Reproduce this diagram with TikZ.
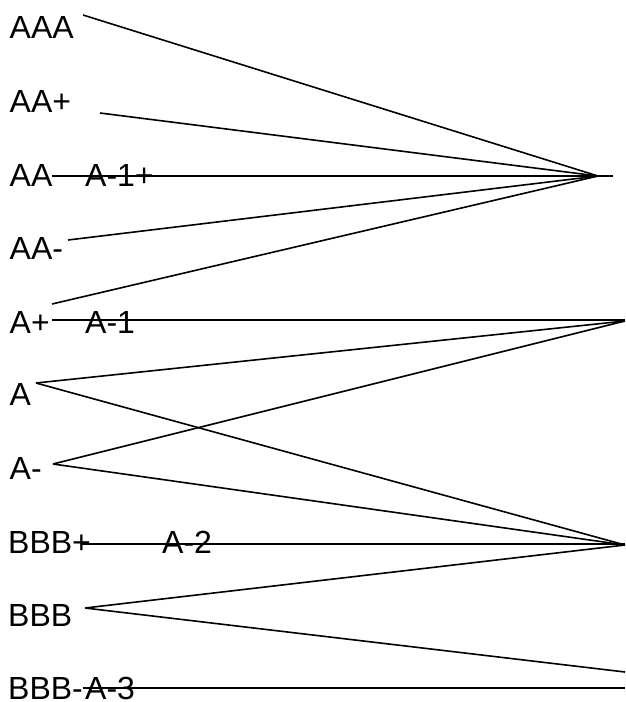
\documentclass[tikz,border=0pt]{standalone}
\usepackage{fontspec}
\setmainfont{Liberation Sans}
\begin{document}
\begin{tikzpicture}[x=1pt,y=-1pt,
  lbl/.style={anchor=base west,inner sep=0pt,font=\fontsize{32}{38}\selectfont},
  link/.style={line width=1.6pt,black}]
\useasboundingbox (0,0) rectangle (625,702);
% left labels
\node[lbl] (AAA) at (9.5,38) {AAA};
\node[lbl] (AAp) at (9.5,112) {AA+};
\node[lbl] (AA) at (9.5,186) {AA};
\node[lbl] (AAm) at (9.5,259) {AA-};
\node[lbl] (Ap) at (9.5,333) {A+};
\node[lbl] (A) at (9.5,405) {A};
\node[lbl] (Am) at (9.5,479) {A-};
\node[lbl] (BBBp) at (8,553) {BBB+};
\node[lbl] (BBB) at (8,626) {BBB};
\node[lbl] (BBBm) at (8,699) {BBB-};
% short-term labels
\node[lbl] (A1p) at (85,186) {A-1+};
\node[lbl] (A1) at (85,333) {A-1};
\node[lbl] (A2) at (162,553) {A-2};
\node[lbl] (A3) at (85,699) {A-3};
% endpoints
\coordinate (sAAA) at (83,15);
\coordinate (sAAp) at (100,113);
\coordinate (sAA) at (52,176);
\coordinate (sAAm) at (68,240);
\coordinate (sApu) at (52,304);
\coordinate (sAph) at (52,320);
\coordinate (sA) at (36,383);
\coordinate (sAm) at (53,464);
\coordinate (sBBBp) at (82,544);
\coordinate (sBBB) at (85,608);
\coordinate (sBBBm) at (83,688);
\coordinate (r1) at (598,176);
\coordinate (r1e) at (613,176);
\coordinate (r2) at (625,321);
\coordinate (r2h) at (625,320);
\coordinate (r3) at (625,545);
\coordinate (r3h) at (625,544);
\coordinate (r4) at (625,672);
\coordinate (r4h) at (625,688);
% connectors
\draw[link] (sAAA) -- (r1);
\draw[link] (sAAp) -- (r1);
\draw[link] (sAA) -- (r1e);
\draw[link] (sAAm) -- (r1);
\draw[link] (sApu) -- (r1);
\draw[link] (sAph) -- (r2h);
\draw[link] (sA) -- (r2);
\draw[link] (sA) -- (r3);
\draw[link] (sAm) -- (r2);
\draw[link] (sAm) -- (r3);
\draw[link] (sBBBp) -- (r3h);
\draw[link] (sBBB) -- (r3);
\draw[link] (sBBB) -- (r4);
\draw[link] (sBBBm) -- (r4h);
\end{tikzpicture}
\end{document}
